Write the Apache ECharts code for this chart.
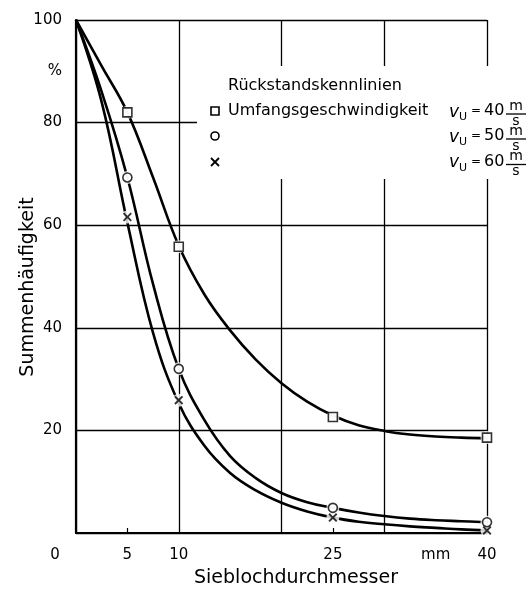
<!DOCTYPE html>
<html lang="de">
<head>
<meta charset="UTF-8">
<title>Rückstandskennlinien</title>
<style>
html,body{margin:0;padding:0;background:#fff;}
#main{width:532px;height:593px;}
</style>
</head>
<body>
<div id="main"></div>
<script src="https://cdn.jsdelivr.net/npm/echarts@6/dist/echarts.min.js"></script>
<script>
// Messpunkte (Marker)
var sieveX = [5, 10, 25, 40];
var v40 = [82, 55.8, 22.6, 18.6];
var v50 = [69.3, 32, 4.9, 2.1];
var v60 = [61.6, 25.9, 3.0, 0.5];

var curveX  = [0, 2.5, 5, 7.5, 10, 12.5, 15, 17.5, 20, 22.5, 25, 27.5, 30, 32.5, 35, 37.5, 40];
var curve40 = [100, 91, 82, 69.3, 56, 46.5, 39.5, 33.8, 29.2, 25.6, 22.9, 21.0, 19.9, 19.2, 18.8, 18.6, 18.5];
var curve50 = [100, 86, 69.3, 48.5, 32, 22, 15, 10.7, 7.8, 6.0, 4.9, 4.0, 3.3, 2.8, 2.5, 2.3, 2.1];
var curve60 = [100, 84, 60.5, 39, 25.3, 17, 11.7, 8.3, 5.9, 4.2, 3.0, 2.2, 1.7, 1.3, 1.0, 0.7, 0.5];

// Achsbeschriftung
var xLabelValues = [0, 5, 10, 25, 35, 40];
var xLabelTexts  = ['0', '5', '10', '25', 'mm', '40'];
var xTickValues  = [5, 25];
var yLabelValues = [20, 40, 60, 80, 90, 100];
var yLabelTexts  = ['20', '40', '60', '80', '%', '100'];
var speeds = ['40', '50', '60'];

var FONT = 'DejaVu Sans';
var crossPath = 'path://M0,1.5L1.5,0L5,3.5L8.5,0L10,1.5L6.5,5L10,8.5L8.5,10L5,6.5L1.5,10L0,8.5L3.5,5Z';

function pairs(xs, ys) {
  return xs.map(function (x, i) { return [x, ys[i]]; });
}

var chart = echarts.init(document.getElementById('main'), null, {renderer: 'canvas'});

var gridBox = {left: 76, right: 45, top: 20, bottom: 60};

function curve(ys) {
  return {
    type: 'line', xAxisIndex: 0, yAxisIndex: 0,
    data: pairs(curveX, ys), smooth: 0.4, showSymbol: false, silent: true,
    lineStyle: {color: '#000', width: 2.6}, z: 3
  };
}
function halo(ys) {
  return {
    type: 'scatter', data: pairs(sieveX, ys), symbol: 'circle', symbolSize: 13,
    itemStyle: {color: '#fff'}, silent: true, z: 4
  };
}
function marker(ys, sym, size, filled) {
  return {
    type: 'scatter', data: pairs(sieveX, ys), symbol: sym, symbolSize: size,
    itemStyle: filled ? {color: '#000'} : {color: '#fff', borderColor: '#000', borderWidth: 1.6},
    silent: true, z: 5
  };
}

function txt(x, y, s, font, extra) {
  var style = {text: s, font: font, fill: '#000', verticalAlign: 'middle'};
  if (extra) Object.assign(style, extra);
  return {type: 'text', x: x, y: y, style: style};
}

// Legende
var legendEls = [
  {type: 'rect', shape: {x: 197, y: 66, width: 335, height: 113}, style: {fill: '#fff'}},
  txt(228, 86, 'Rückstandskennlinien', '16px "' + FONT + '"'),
  txt(228, 111, 'Umfangsgeschwindigkeit', '16px "' + FONT + '"'),
  {type: 'rect', shape: {x: 211, y: 107, width: 8, height: 8}, style: {fill: '#fff', stroke: '#000', lineWidth: 1.6}},
  {type: 'circle', shape: {cx: 215, cy: 136, r: 4}, style: {fill: '#fff', stroke: '#000', lineWidth: 1.6}},
  {type: 'line', shape: {x1: 211, y1: 158, x2: 219, y2: 166}, style: {stroke: '#000', lineWidth: 1.8}},
  {type: 'line', shape: {x1: 219, y1: 158, x2: 211, y2: 166}, style: {stroke: '#000', lineWidth: 1.8}}
];
[111, 136, 161.5].forEach(function (c, i) {
  legendEls.push(
    txt(449, c + 1.5, 'v', 'italic 17px "' + FONT + '"'),
    txt(459, c + 6.5, 'U', '11px "' + FONT + '"'),
    txt(471, c, '=', '12px "' + FONT + '"'),
    txt(484, c, speeds[i], '16px "' + FONT + '"'),
    txt(516, c - 5, 'm', '14px "' + FONT + '"', {align: 'center'}),
    {type: 'line', shape: {x1: 506, y1: c + 3, x2: 526, y2: c + 3}, style: {stroke: '#000', lineWidth: 1.3}},
    txt(516, c + 10, 's', '14px "' + FONT + '"', {align: 'center'})
  );
});

// Achsentitel
legendEls.push(
  txt(296, 578, 'Sieblochdurchmesser', '19px "' + FONT + '"', {align: 'center'})
);
var yTitle = txt(0, 0, 'Summenhäufigkeit', '19px "' + FONT + '"', {align: 'center'});
yTitle.x = 28; yTitle.y = 287; yTitle.rotation = Math.PI / 2;
legendEls.push(yTitle);
legendEls.forEach(function (e) { e.z = 50; });

chart.setOption({
  backgroundColor: '#fff',
  animation: false,
  textStyle: {fontFamily: FONT},
  grid: [
    Object.assign({}, gridBox),
    Object.assign({}, gridBox)
  ],
  xAxis: [{
    type: 'value', gridIndex: 0, min: 0, max: 40, interval: 10,
    axisLine: {show: true, onZero: false, lineStyle: {color: '#000', width: 2.2}},
    axisTick: {show: false},
    splitLine: {show: true, lineStyle: {color: '#000', width: 1.3}},
    axisLabel: {
      customValues: xLabelValues, margin: 15, color: '#000', fontSize: 15, fontFamily: FONT,
      formatter: function (v) {
        var t = xLabelTexts[xLabelValues.indexOf(v)] || '';
        return v === 0 ? '{o|' + t + '}' : t;
      },
      rich: {o: {fontSize: 15, fontFamily: FONT, color: '#000', padding: [0, 42, 0, 0]}}
    }
  }, {
    type: 'value', gridIndex: 1, min: 0, max: 40,
    axisLine: {show: false},
    axisTick: {show: true, inside: true, length: 5, customValues: xTickValues, lineStyle: {color: '#000', width: 1.2}},
    axisLabel: {show: false},
    splitLine: {show: false}
  }],
  yAxis: [{
    type: 'value', gridIndex: 0, min: 0, max: 100, interval: 20,
    axisLine: {show: true, onZero: false, lineStyle: {color: '#000', width: 2.2}},
    axisTick: {show: false},
    splitLine: {show: true, lineStyle: {color: '#000', width: 1.3}},
    axisLabel: {
      customValues: yLabelValues, margin: 14, color: '#000', fontSize: 15, fontFamily: FONT,
      formatter: function (v) { return yLabelTexts[yLabelValues.indexOf(v)] || ''; }
    }
  }, {
    type: 'value', gridIndex: 1, min: 0, max: 100, show: false
  }],
  series: [
    curve(curve40), curve(curve50), curve(curve60),
    halo(v40), halo(v50), halo(v60),
    marker(v40, 'rect', 9, false),
    marker(v50, 'circle', 9, false),
    marker(v60, crossPath, 9, true)
  ],
  graphic: legendEls
});
</script>
</body>
</html>
